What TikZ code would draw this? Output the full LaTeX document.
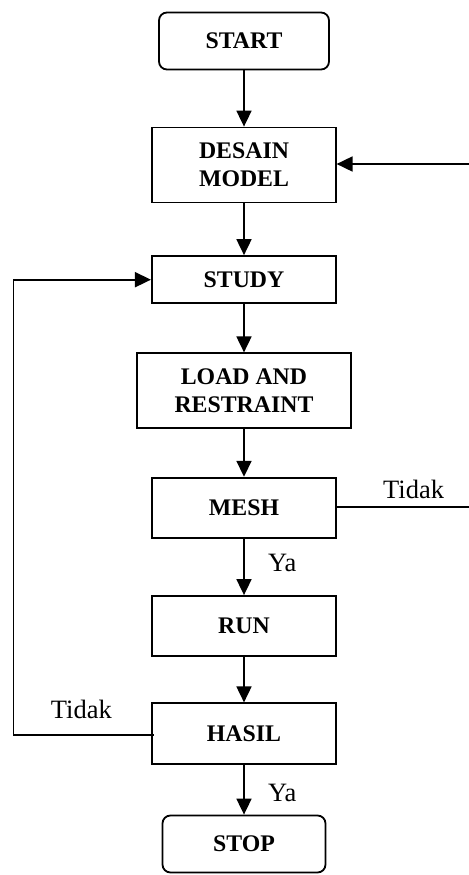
\documentclass[tikz,border=0pt]{standalone}
\usepackage{fontspec}
\setmainfont{Liberation Serif}
\usetikzlibrary{arrows.meta}
\begin{document}
\begin{tikzpicture}[x=1bp,y=-1bp,
  box/.style={draw,line width=1.8bp,inner sep=0pt,align=center,
    font=\fontsize{23.8bp}{28bp}\selectfont\bfseries},
  term/.style={box,rounded corners=8bp},
  conn/.style={line width=1.8bp},
  arr/.style={conn,-{Triangle[length=16bp,width=15bp]}},
  lbl/.style={font=\fontsize{26.5bp}{30bp}\selectfont,inner sep=0pt,anchor=base west}]
\useasboundingbox (0,0) rectangle (469,875);
\node[term,minimum width=170bp,minimum height=57bp] (start) at (244,41) {START};
\node[box,minimum width=183.4bp,minimum height=75bp] (desain) at (244,165) {DESAIN\\MODEL};
\node[box,minimum width=184.3bp,minimum height=47.3bp] (study) at (244,279.7) {STUDY};
\node[box,minimum width=214.3bp,minimum height=75bp] (load) at (244,390.8) {LOAD AND\\RESTRAINT};
\node[box,minimum width=184.3bp,minimum height=60bp] (mesh) at (244,507.7) {MESH};
\node[box,minimum width=184.3bp,minimum height=60bp] (run) at (244,626) {RUN};
\node[box,minimum width=184.3bp,minimum height=61bp] (hasil) at (244,733.8) {HASIL};
\node[term,minimum width=163bp,minimum height=57bp] (stop) at (244,844) {STOP};
\coordinate (rin) at (469,164);
\coordinate (rout) at (469,506.7);
\coordinate (lc) at (13.5,734.7);
\draw[arr] (start) -- (desain);
\draw[arr] (desain) -- (study);
\draw[arr] (study) -- (load);
\draw[arr] (load) -- (mesh);
\draw[arr] (mesh) -- (run);
\draw[arr] (run) -- (hasil);
\draw[arr] (hasil) -- (stop);
\draw[arr] (rin) -- (rin -| desain.east);
\draw[conn] (mesh.east |- rout) -- (rout);
\draw[arr] ([xshift=3bp]hasil.west |- lc) -- (lc) |- (study.west);
\node[lbl] (t1) at (383,498) {Tidak};
\node[lbl] (t2) at (50.7,718.3) {Tidak};
\node[lbl] (y1) at (268,571.7) {Ya};
\node[lbl] (y2) at (268,801.7) {Ya};
\end{tikzpicture}
\end{document}
